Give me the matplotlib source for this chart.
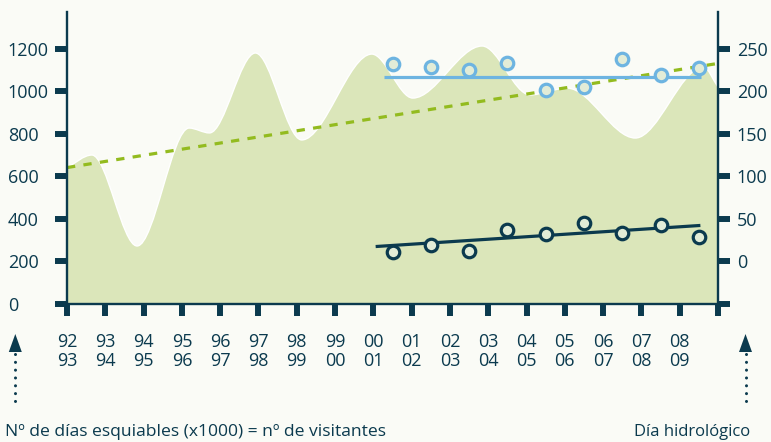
import numpy as np
import matplotlib.pyplot as plt
from matplotlib.path import Path
from matplotlib.patches import PathPatch, Polygon
from matplotlib.lines import Line2D
from matplotlib.transforms import Affine2D

# colours
navy = '#0b3a4e'
blue = '#6db4e1'
lime = '#93bb1f'
area_col = '#dbe6ba'
bg = '#fafbf6'
face = '#e2ecd7'

# silhouette of the area (left axis), key points
area_x = [0, 0.65, 1.83, 3.19, 3.72, 4.92, 6.13, 7.96, 9.03, 10.84, 12.09, 13.06, 14.84, 16.62, 17]
area_y = [642, 701, 273, 828, 805, 1181, 772, 1176, 969, 1214, 984, 1016, 781, 1115, 1021]

# dashed trend over the whole period (left axis)
trend_x = [0, 17]
trend_y = [642, 1132]

# seasons 00-01 .. 08-09 (right axis)
season_x = [8.5, 9.5, 10.5, 11.5, 12.5, 13.5, 14.5, 15.5, 16.5]
upper_vals = [232.5, 228.6, 225.5, 233.3, 202, 205, 238.5, 219.6, 228.2]
lower_vals = [11, 19.6, 12.9, 37.3, 32.6, 45.1, 33.3, 43.2, 28.6]
upper_line_x = [8.27, 16.56]
upper_line_y = [217, 217]
lower_line_x = [8.06, 16.54]
lower_line_y = [17.6, 42.4]

season_labels = ['92\n93', '93\n94', '94\n95', '95\n96', '96\n97', '97\n98', '98\n99',
                 '99\n00', '00\n01', '01\n02', '02\n03', '03\n04', '04\n05', '05\n06',
                 '06\n07', '07\n08', '08\n09', '']
left_ticks = [0, 200, 400, 600, 800, 1000, 1200]
right_ticks = [-50, 0, 50, 100, 150, 200, 250]
right_labels = ['', '0', '50', '100', '150', '200', '250']


def smooth_area(xs, ys):
    # monotone cubic through the points, drawn as bezier segments
    xs = np.asarray(xs, float)
    ys = np.asarray(ys, float)
    d = np.diff(ys) / np.diff(xs)
    m = np.zeros_like(ys)
    m[0], m[-1] = d[0], d[-1]
    for i in range(1, len(ys) - 1):
        if d[i - 1] * d[i] > 0:
            m[i] = 2 / (1 / d[i - 1] + 1 / d[i])
    verts = [(xs[0], 0), (xs[0], ys[0])]
    codes = [Path.MOVETO, Path.LINETO]
    for i in range(len(xs) - 1):
        h = xs[i + 1] - xs[i]
        verts += [(xs[i] + h / 3, ys[i] + m[i] * h / 3),
                  (xs[i + 1] - h / 3, ys[i + 1] - m[i + 1] * h / 3),
                  (xs[i + 1], ys[i + 1])]
        codes += [Path.CURVE4] * 3
    verts += [(xs[-1], 0), (xs[0], 0)]
    codes += [Path.LINETO, Path.CLOSEPOLY]
    return Path(verts, codes)


plt.rcParams['font.family'] = ['Open Sans', 'DejaVu Sans']
W, H = 771, 442
fig = plt.figure(figsize=(W / 100, H / 100), dpi=100, facecolor=bg)
pix = Affine2D().scale(1 / W, -1 / H).translate(0, 1) + fig.transFigure

ax = fig.add_axes([67 / W, 1 - 304 / H, (718 - 67) / W, (304 - 12) / H])
ax.set_facecolor(bg)
ax.set_xlim(0, 17)
ax.set_ylim(0, 1374)

ax.add_patch(PathPatch(smooth_area(area_x, area_y), facecolor=area_col,
                       edgecolor='white', lw=1.0, zorder=1))
ax.plot(trend_x, trend_y, color=lime, lw=2.3, linestyle=(0, (2.6, 2.6)), zorder=2)

ax2 = ax.twinx()
ax2.set_ylim(-50, 293.5)
ax2.plot(upper_line_x, upper_line_y, color=blue, lw=2.3, solid_capstyle='butt', zorder=3)
ax2.plot(lower_line_x, lower_line_y, color=navy, lw=2.3, solid_capstyle='butt', zorder=3)
ax2.plot(season_x, upper_vals, 'o', ms=9, mew=2.3, mfc=face, mec=blue, zorder=4)
ax2.plot(season_x, lower_vals, 'o', ms=9, mew=2.3, mfc=face, mec=navy, zorder=4)

for s in ['top', 'right']:
    ax.spines[s].set_visible(False)
for s in ['top', 'left', 'bottom']:
    ax2.spines[s].set_visible(False)
for a in (ax, ax2):
    for s in a.spines.values():
        s.set_color(navy)
        s.set_linewidth(1.7)

ax.set_xticks(range(18))
ax.set_xticklabels(season_labels, linespacing=1.1)
ax.set_yticks(left_ticks)
ax.set_yticklabels([str(v) for v in left_ticks])
ax2.set_yticks(right_ticks)
ax2.set_yticklabels(right_labels)

ax.tick_params(axis='x', length=8.6, width=4.3, color=navy, labelcolor=navy,
               labelsize=13, pad=12)
ax.tick_params(axis='y', length=8.6, width=4.3, color=navy, labelcolor=navy,
               labelsize=13, pad=34)
ax2.tick_params(axis='y', length=8.6, width=4.3, color=navy, labelcolor=navy,
                labelsize=13, pad=5)
for lab in ax.get_yticklabels():
    lab.set_horizontalalignment('left')

# arrows under the axes
for ax_x in (15.3, 745.5):
    fig.add_artist(Line2D([ax_x, ax_x], [354, 408], transform=pix, color=navy,
                          lw=2.2, linestyle=(0, (0.01, 2.55)), dash_capstyle='round'))
    fig.add_artist(Polygon([(ax_x - 6.5, 352), (ax_x + 6.5, 352), (ax_x, 334)],
                           closed=True, transform=pix, color=navy, lw=0))

fig.text(5, 436, 'Nº de días esquiables (x1000) = nº de visitantes', transform=pix,
         ha='left', va='baseline', color=navy, fontsize=12.6)
fig.text(750, 436, 'Día hidrológico', transform=pix, ha='right', va='baseline',
         color=navy, fontsize=12)

fig.savefig('out.png', dpi=100, facecolor=bg)
